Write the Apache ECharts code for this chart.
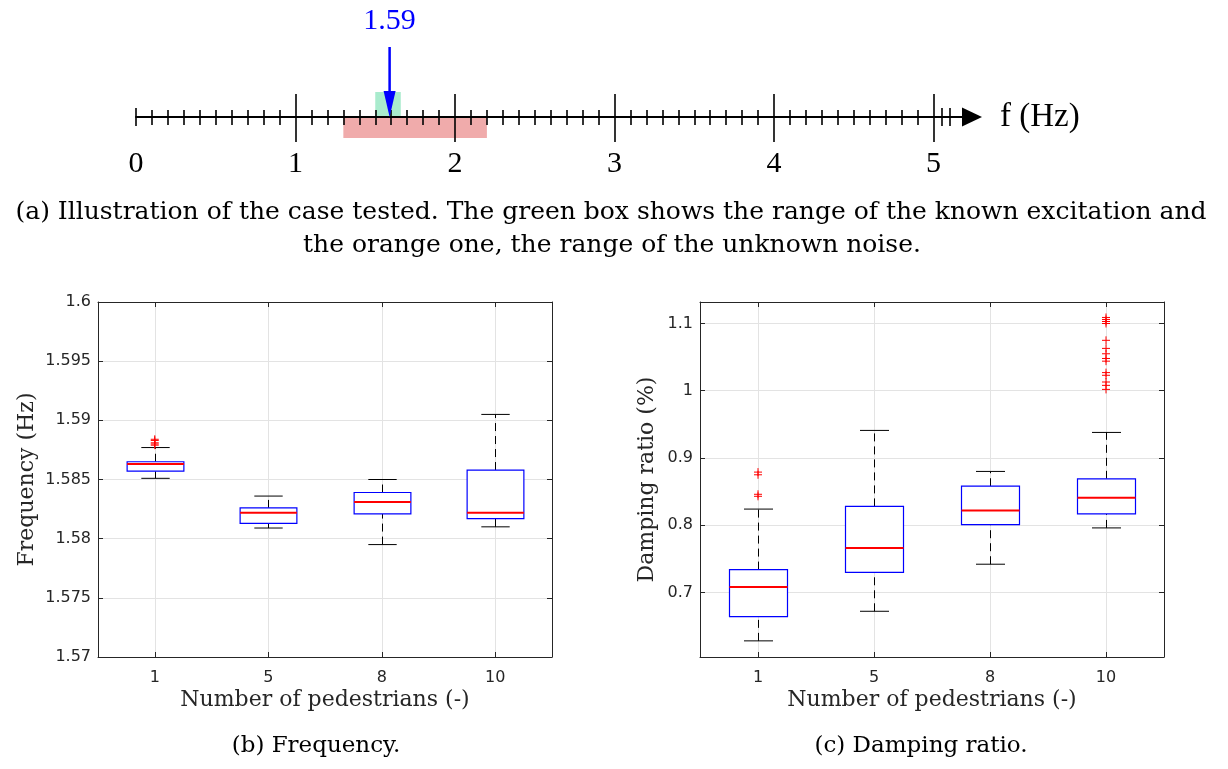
<!DOCTYPE html>
<html>
<head>
<meta charset="utf-8">
<script src="https://cdn.jsdelivr.net/npm/echarts@6/dist/echarts.min.js"></script>
<style>
html,body{margin:0;padding:0;background:#fff}
#main{width:1228px;height:769px}
</style>
</head>
<body>
<div id="main"></div>
<script>
// (a) number line
const majorTickVals = [1, 2, 3, 4, 5];
const endTickVals = [0, 5.05, 5.1];
const excitationRange = [1.5, 1.66];   // green box
const noiseRange = [1.3, 2.2];         // orange box
const markedFreq = 1.59;

// (b) / (c) boxplots
const pedestrians = ['1', '5', '8', '10'];
// each row: [lower whisker, q1, median, q3, upper whisker]
const freqBoxes = [
    [1.5851, 1.5857, 1.5863, 1.5865, 1.5877],
    [1.5809, 1.5813, 1.5822, 1.5826, 1.5836],
    [1.5795, 1.5821, 1.5831, 1.5839, 1.5850],
    [1.5810, 1.5817, 1.5822, 1.5858, 1.5905]
];
const freqOutliers = [
    [1.5884, 1.5883, 1.5881, 1.5880, 1.5879],
    [], [], []
];
const dampBoxes = [
    [0.628, 0.664, 0.708, 0.734, 0.824],
    [0.672, 0.730, 0.766, 0.828, 0.941],
    [0.742, 0.801, 0.822, 0.858, 0.880],
    [0.796, 0.817, 0.841, 0.869, 0.938]
];
const dampOutliers = [
    [0.879, 0.875, 0.846, 0.843],
    [],
    [],
    [1.109, 1.106, 1.103, 1.100, 1.075, 1.063, 1.055, 1.048, 1.044, 1.027, 1.023, 1.013, 1.008, 1.002]
];

const SERIF = "'Liberation Serif', serif";
const TEXT = "'DejaVu Serif', serif";
const SANS = "'DejaVu Sans', sans-serif";
const AX = '#262626';
const GRIDC = '#e3e3e3';

const chart = echarts.init(document.getElementById('main'));

function boxData(rows) {
    return rows.map((r, i) => [i + 1].concat(r));
}
function outlierData(rows) {
    let out = [];
    rows.forEach((vals, i) => vals.forEach(v => out.push([i + 1, v])));
    return out;
}

function renderBox(params, api) {
    const x = api.value(0);
    const low = api.coord([x, api.value(1)]);
    const q1 = api.coord([x, api.value(2)]);
    const med = api.coord([x, api.value(3)]);
    const q3 = api.coord([x, api.value(4)]);
    const high = api.coord([x, api.value(5)]);
    const band = api.size([1, 0])[0];
    const bw = band * 0.25, cw = band * 0.125;
    const cx = Math.round(med[0]) + 0.5;
    const dash = {stroke: '#000', lineWidth: 1, lineDash: [8, 5]};
    const solid = {stroke: '#000', lineWidth: 1};
    return {
        type: 'group',
        children: [
            {type: 'line', shape: {x1: cx, y1: q3[1], x2: cx, y2: high[1]}, style: dash},
            {type: 'line', shape: {x1: cx, y1: low[1], x2: cx, y2: q1[1]}, style: dash},
            {type: 'line', shape: {x1: cx - cw, y1: high[1], x2: cx + cw, y2: high[1]}, style: solid},
            {type: 'line', shape: {x1: cx - cw, y1: low[1], x2: cx + cw, y2: low[1]}, style: solid},
            {type: 'rect', shape: {x: cx - bw, y: q3[1], width: 2 * bw, height: q1[1] - q3[1]},
                style: {fill: '#fff', stroke: '#0000ff', lineWidth: 1.2}},
            {type: 'line', shape: {x1: cx - bw, y1: med[1], x2: cx + bw, y2: med[1]},
                style: {stroke: '#ff0000', lineWidth: 2}}
        ]
    };
}

function renderPlus(params, api) {
    const p = api.coord([api.value(0), api.value(1)]);
    const s = 4;
    const st = {stroke: '#ff0000', lineWidth: 1};
    return {
        type: 'group',
        children: [
            {type: 'line', shape: {x1: p[0] - s, y1: p[1], x2: p[0] + s, y2: p[1]}, style: st},
            {type: 'line', shape: {x1: p[0], y1: p[1] - s, x2: p[0], y2: p[1] + s}, style: st}
        ]
    };
}

function renderRange(params, api) {
    const a = api.coord([api.value(0), 0]);
    const b = api.coord([api.value(1), 0]);
    const up = params.dataIndex === 0;
    return {
        type: 'rect',
        shape: up ? {x: a[0], y: a[1] - 25, width: b[0] - a[0], height: 25}
                  : {x: a[0], y: a[1], width: b[0] - a[0], height: 21},
        style: {fill: up ? '#a9ebcd' : '#f0abab'}
    };
}

function renderArrow(params, api) {
    const p = api.coord([api.value(0), 0]);
    const x = p[0], tip = p[1];
    return {
        type: 'group',
        children: [
            {type: 'line', shape: {x1: x, y1: tip - 70, x2: x, y2: tip - 24},
                style: {stroke: '#0000ff', lineWidth: 2.5}},
            {type: 'polygon', shape: {points: [[x - 6, tip - 26], [x + 6, tip - 26], [x, tip]]},
                style: {fill: '#0000ff'}},
            {type: 'text', x: x, y: tip - 96,
                style: {text: String(api.value(0)), fill: '#0000ff', font: '30px ' + SERIF,
                    align: 'center', verticalAlign: 'middle'}}
        ]
    };
}

// box plot axes (one pair of x axes + one pair of y axes per panel)
function boxXAxes(grid, name) {
    return [{
        type: 'value', gridIndex: grid, position: 'bottom', min: 0.5, max: 4.5,
        minInterval: 1, maxInterval: 1,
        axisLine: {lineStyle: {color: AX, width: 1}},
        axisTick: {inside: true, length: 5, lineStyle: {color: AX}},
        axisLabel: {
            formatter: v => pedestrians[v - 1] || '', showMinLabel: false, showMaxLabel: false,
            fontFamily: SANS, fontSize: 16, color: AX, margin: 13
        },
        splitLine: {show: true, lineStyle: {color: GRIDC, width: 1}},
        name: name, nameLocation: 'middle', nameGap: 32,
        nameTextStyle: {fontFamily: TEXT, fontSize: 22, color: AX}
    }, {
        type: 'value', gridIndex: grid, position: 'top', min: 0.5, max: 4.5,
        minInterval: 1, maxInterval: 1,
        axisLine: {lineStyle: {color: AX, width: 1}},
        axisTick: {inside: true, length: 5, lineStyle: {color: AX}},
        axisLabel: {show: false}, splitLine: {show: false}
    }];
}

function boxYAxes(grid, extra, name, gap) {
    return [Object.assign({
        type: 'value', gridIndex: grid, position: 'left',
        axisLine: {show: true, lineStyle: {color: AX, width: 1}},
        axisTick: {show: true, inside: true, length: 5, lineStyle: {color: AX}},
        axisLabel: {fontFamily: SANS, fontSize: 16, color: AX, margin: 7,
            showMinLabel: extra.showEnds, showMaxLabel: extra.showEnds},
        splitLine: {show: true, lineStyle: {color: GRIDC, width: 1}},
        name: name, nameLocation: 'middle', nameGap: gap, nameRotate: 90,
        nameTextStyle: {fontFamily: TEXT, fontSize: 22, color: AX}
    }, extra.scale), Object.assign({
        type: 'value', gridIndex: grid, position: 'right',
        axisLine: {show: true, lineStyle: {color: AX, width: 1}},
        axisTick: {show: true, inside: true, length: 5, lineStyle: {color: AX}},
        axisLabel: {show: false}, splitLine: {show: false}
    }, extra.scale)];
}

const freqScale = {min: 1.57, max: 1.6, interval: 0.005};
const dampScale = {min: 0.604, max: 1.132, minInterval: 0.1, maxInterval: 0.1};

const lineTick = {color: '#000', width: 1.6};

chart.setOption({
    animation: false,
    grid: [
        {left: 136, top: 57, width: 797.5, height: 60},
        {left: 136, top: 57, width: 836, height: 60},
        {left: 98, top: 302, width: 454, height: 355},
        {left: 700, top: 302, width: 464, height: 355}
    ],
    xAxis: [
        {   // number line, ticks below + labels
            type: 'value', gridIndex: 0, position: 'bottom', min: 0, max: 5, interval: 1, z: 3,
            axisLine: {show: false},
            axisTick: {length: 25, lineStyle: lineTick, customValues: majorTickVals},
            minorTick: {show: true, splitNumber: 10, length: 8, lineStyle: lineTick},
            axisLabel: {fontFamily: SERIF, fontSize: 30, color: '#000', margin: 32},
            splitLine: {show: false}
        },
        {   // number line, ticks above
            type: 'value', gridIndex: 0, position: 'bottom', min: 0, max: 5, interval: 1, z: 3,
            axisLine: {show: false},
            axisTick: {inside: true, length: 23, lineStyle: lineTick, customValues: majorTickVals},
            minorTick: {show: true, splitNumber: 10, length: 7, lineStyle: lineTick},
            axisLabel: {show: false}, splitLine: {show: false}
        },
        {   // axis line with arrow
            type: 'value', gridIndex: 1, position: 'bottom', min: 0, max: 5.2414, z: 3,
            axisLine: {show: true, lineStyle: {color: '#000', width: 2},
                symbol: ['none', 'triangle'], symbolSize: [19, 20]},
            axisTick: {show: true, length: 9, lineStyle: lineTick, customValues: endTickVals},
            axisLabel: {show: false}, splitLine: {show: false},
            name: 'f (Hz)', nameLocation: 'end', nameGap: 28,
            nameTextStyle: {fontFamily: SERIF, fontSize: 33, color: '#000', padding: [0, 0, 6, 0]}
        },
        {
            type: 'value', gridIndex: 1, position: 'bottom', min: 0, max: 5.2414, z: 3,
            axisLine: {show: false},
            axisTick: {show: true, inside: true, length: 9, lineStyle: lineTick, customValues: endTickVals},
            axisLabel: {show: false}, splitLine: {show: false}
        }
    ].concat(boxXAxes(2, 'Number of pedestrians (-)'), boxXAxes(3, 'Number of pedestrians (-)')),
    yAxis: [
        {type: 'value', gridIndex: 0, min: 0, max: 1, show: false},
        {type: 'value', gridIndex: 1, min: 0, max: 1, show: false}
    ].concat(
        boxYAxes(2, {scale: freqScale, showEnds: true}, 'Frequency (Hz)', 60),
        boxYAxes(3, {scale: dampScale, showEnds: false}, 'Damping ratio (%)', 42)
    ),
    series: [
        {type: 'custom', xAxisIndex: 0, yAxisIndex: 0, z: 1, renderItem: renderRange,
            data: [excitationRange, noiseRange]},
        {type: 'custom', xAxisIndex: 0, yAxisIndex: 0, z: 5, renderItem: renderArrow,
            data: [[markedFreq]]},
        {type: 'custom', xAxisIndex: 4, yAxisIndex: 2, renderItem: renderBox,
            encode: {x: 0, y: [1, 2, 3, 4, 5]}, data: boxData(freqBoxes)},
        {type: 'custom', xAxisIndex: 4, yAxisIndex: 2, renderItem: renderPlus,
            encode: {x: 0, y: 1}, data: outlierData(freqOutliers)},
        {type: 'custom', xAxisIndex: 6, yAxisIndex: 4, renderItem: renderBox,
            encode: {x: 0, y: [1, 2, 3, 4, 5]}, data: boxData(dampBoxes)},
        {type: 'custom', xAxisIndex: 6, yAxisIndex: 4, renderItem: renderPlus,
            encode: {x: 0, y: 1}, data: outlierData(dampOutliers)}
    ],
    graphic: [
        {type: 'text', x: 611, y: 212, style: {
            text: '(a) Illustration of the case tested. The green box shows the range of the known excitation and',
            font: '25px ' + TEXT, fill: '#000', align: 'center', verticalAlign: 'middle'}},
        {type: 'text', x: 612, y: 245, style: {
            text: 'the orange one, the range of the unknown noise.',
            font: '25px ' + TEXT, fill: '#000', align: 'center', verticalAlign: 'middle'}},
        {type: 'text', x: 316, y: 746, style: {
            text: '(b) Frequency.', font: '23px ' + TEXT, fill: '#000', align: 'center', verticalAlign: 'middle'}},
        {type: 'text', x: 921, y: 746, style: {
            text: '(c) Damping ratio.', font: '23px ' + TEXT, fill: '#000', align: 'center', verticalAlign: 'middle'}}
    ]
});
</script>
</body>
</html>
